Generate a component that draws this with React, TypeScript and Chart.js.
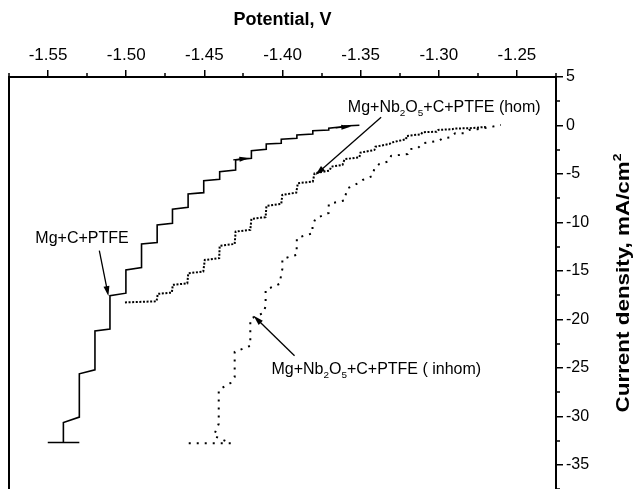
import React, { useEffect, useRef } from 'react';
import { Chart, registerables } from 'chart.js';

Chart.register(...registerables);

const FONT = "'Liberation Sans', Arial, Helvetica, sans-serif";

// Axis ticks
const xTicks = [-1.55, -1.5, -1.45, -1.4, -1.35, -1.3, -1.25];
const xMinorTicks = [-1.575, -1.525, -1.475, -1.425, -1.375, -1.325, -1.275, -1.225];
const yTicks = [5, 0, -5, -10, -15, -20, -25, -30, -35];
const yMinorTicks = [2.5, -2.5, -7.5, -12.5, -17.5, -22.5, -27.5, -32.5, -37.5];
const xRange = [-1.575, -1.225];
const yRange = [-37.5, 5];

// Mg+C+PTFE (solid staircase)
const mgcPotential = [
  -1.5502, -1.5300, -1.5402, -1.5402, -1.5300, -1.5300, -1.5200, -1.5200, -1.5104, -1.5104,
  -1.5002, -1.5002, -1.4902, -1.4902, -1.4802, -1.4802, -1.4704, -1.4704, -1.4604, -1.4604,
  -1.4504, -1.4504, -1.4402, -1.4402, -1.4300, -1.4300, -1.4199, -1.4199, -1.4104, -1.4104,
  -1.4008, -1.4008, -1.3908, -1.3908, -1.3806, -1.3806, -1.3704, -1.3704, -1.3603, -1.3603,
  -1.3508,
];
const mgcCurrent = [
  -32.7, -32.7, -32.7, -30.64, -30.08, -25.62, -25.21, -21.19, -21.01, -17.55,
  -17.3, -14.9, -14.66, -12.22, -12.08, -10.26, -10.08, -8.64, -8.43, -7.06,
  -6.93, -5.69, -5.55, -4.76, -4.59, -3.56, -3.38, -2.6, -2.45, -1.91,
  -1.84, -1.42, -1.32, -0.98, -0.88, -0.54, -0.46, -0.29, -0.12, -0.05,
  0.02,
];

// Mg+Nb2O5+C+PTFE (hom) (dense dots)
const homPotential = [
  -1.5008, -1.4806, -1.4798, -1.4708, -1.4702, -1.4609, -1.4603, -1.4507, -1.4497, -1.4405,
  -1.4402, -1.4306, -1.43, -1.4206, -1.4199, -1.4108, -1.4103, -1.4008, -1.4001, -1.3912,
  -1.3902, -1.3806, -1.3795, -1.3699, -1.3688, -1.3616, -1.3603, -1.3508, -1.3501, -1.3412,
  -1.3405, -1.3316, -1.3305, -1.3209, -1.3206, -1.3114, -1.3104, -1.3014, -1.3003, -1.2914,
  -1.2901, -1.2805, -1.2699,
];
const homCurrent = [
  -18.25, -18.14, -17.37, -17.24, -16.44, -16.29, -15.24, -15.07, -13.87, -13.69,
  -12.42, -12.22, -10.95, -10.77, -9.64, -9.46, -8.3, -8.09, -7.16, -6.93,
  -5.96, -5.79, -4.93, -4.66, -4.25, -4.07, -3.48, -3.28, -2.8, -2.53,
  -2.19, -1.91, -1.77, -1.42, -1.08, -0.91, -0.7, -0.64, -0.46, -0.39,
  -0.31, -0.29, -0.15,
];

// Mg+Nb2O5+C+PTFE ( inhom) (sparse dots)
const inhomPotential = [
  -1.46, -1.4331, -1.444, -1.4408, -1.4408, -1.4331, -1.4306, -1.4306, -1.4206, -1.4206,
  -1.4121, -1.4108, -1.4108, -1.4019, -1.4001, -1.4001, -1.391, -1.3908, -1.3808, -1.3808,
  -1.3789, -1.3704, -1.3704, -1.3603, -1.3593, -1.3582, -1.352, -1.3487, -1.3423, -1.3412,
  -1.338, -1.3322, -1.3305, -1.3199, -1.3188, -1.3135, -1.3103, -1.2997, -1.2976, -1.2922,
  -1.2895, -1.2837, -1.2805, -1.2752, -1.2656, -1.2603,
];
const inhomCurrent = [
  -32.78, -32.78, -32.01, -30.77, -27.27, -26.55, -25.93, -23.35, -22.73, -19.95,
  -19.33, -18.61, -16.96, -16.34, -14.79, -13.76, -13.35, -11.6, -11.13, -10.36,
  -9.59, -9.02, -8.09, -7.73, -6.96, -6.47, -5.98, -5.62, -5.21, -4.41,
  -3.97, -3.71, -3.14, -2.94, -2.45, -2.35, -1.84, -1.57, -1.32, -1.22,
  -0.8, -0.8, -0.46, -0.39, -0.12, 0.05,
];

type Seg = { t: string; s?: 'sub' | 'sup' };

const homLabel: Seg[] = [
  { t: 'Mg+Nb' }, { t: '2', s: 'sub' }, { t: 'O' }, { t: '5', s: 'sub' }, { t: '+C+PTFE (hom)' },
];
const inhomLabel: Seg[] = [
  { t: 'Mg+Nb' }, { t: '2', s: 'sub' }, { t: 'O' }, { t: '5', s: 'sub' }, { t: '+C+PTFE ( inhom)' },
];
const mgcLabel: Seg[] = [{ t: 'Mg+C+PTFE' }];
const xTitle: Seg[] = [{ t: 'Potential, V' }];
const yTitle: Seg[] = [{ t: 'Current density, mA/cm' }, { t: '2', s: 'sup' }];

// annotation anchors in data coordinates
const annotations = [
  { label: mgcLabel, x: -1.5283, y: -11.5, align: 'center', tail: [-1.5172, -12.9], tip: [-1.5114, -17.6] },
  { label: homLabel, x: -1.3582, y: 2.0, align: 'left', tail: [-1.3369, 0.85], tip: [-1.3789, -5.1] },
  { label: inhomLabel, x: -1.4071, y: -25.0, align: 'left', tail: [-1.3923, -23.76], tip: [-1.4185, -19.64] },
];
const directionMarks = [
  { from: [-1.4315, -3.55], to: [-1.4212, -3.36] },
  { from: [-1.3660, -0.24], to: [-1.3560, -0.1] },
];

function richWidth(ctx: CanvasRenderingContext2D, segs: Seg[], size: number, bold: boolean) {
  let w = 0;
  for (const sg of segs) {
    const fs = sg.s ? size * 0.62 : size;
    ctx.font = `${bold ? 'bold ' : ''}${fs}px ${FONT}`;
    w += ctx.measureText(sg.t).width;
  }
  return w;
}

function drawRich(
  ctx: CanvasRenderingContext2D, segs: Seg[], x: number, y: number,
  size: number, bold: boolean, align: 'left' | 'center',
) {
  const total = richWidth(ctx, segs, size, bold);
  let cx = align === 'center' ? x - total / 2 : x;
  ctx.textAlign = 'left';
  ctx.textBaseline = 'alphabetic';
  const base = y + size * 0.36;
  for (const sg of segs) {
    const fs = sg.s ? size * 0.62 : size;
    ctx.font = `${bold ? 'bold ' : ''}${fs}px ${FONT}`;
    let yy = base;
    if (sg.s === 'sub') yy = base + size * 0.28;
    if (sg.s === 'sup') yy = base - size * 0.42;
    ctx.fillText(sg.t, cx, yy);
    cx += ctx.measureText(sg.t).width;
  }
}

function arrow(ctx: CanvasRenderingContext2D, x1: number, y1: number, x2: number, y2: number, len: number, half: number, line: boolean) {
  const a = Math.atan2(y2 - y1, x2 - x1);
  if (line) {
    ctx.beginPath();
    ctx.moveTo(x1, y1);
    ctx.lineTo(x2 - Math.cos(a) * len * 0.6, y2 - Math.sin(a) * len * 0.6);
    ctx.stroke();
  }
  ctx.beginPath();
  ctx.moveTo(x2, y2);
  ctx.lineTo(x2 - Math.cos(a) * len + Math.sin(a) * half, y2 - Math.sin(a) * len - Math.cos(a) * half);
  ctx.lineTo(x2 - Math.cos(a) * len - Math.sin(a) * half, y2 - Math.sin(a) * len + Math.cos(a) * half);
  ctx.closePath();
  ctx.fill();
}

const decorPlugin = {
  id: 'decor',
  afterDraw(chart: any) {
    const { ctx, chartArea } = chart;
    const xs = chart.scales.x;
    const ys = chart.scales.y;
    ctx.save();
    ctx.strokeStyle = '#000';
    ctx.fillStyle = '#000';
    // left frame
    ctx.lineWidth = 2;
    ctx.beginPath();
    ctx.moveTo(chartArea.left, chartArea.top - 1);
    ctx.lineTo(chartArea.left, chartArea.bottom);
    ctx.stroke();
    // minor ticks
    ctx.lineWidth = 1.5;
    ctx.beginPath();
    for (const v of xMinorTicks) {
      const px = Math.round(xs.getPixelForValue(v));
      ctx.moveTo(px, chartArea.top);
      ctx.lineTo(px, chartArea.top - 4);
    }
    for (const v of yMinorTicks) {
      const py = Math.round(ys.getPixelForValue(v));
      ctx.moveTo(chartArea.right, py);
      ctx.lineTo(chartArea.right + 4, py);
    }
    ctx.stroke();

    // axis titles
    drawRich(ctx, xTitle, (chartArea.left + chartArea.right) / 2, 19, 18, true, 'center');
    ctx.save();
    ctx.translate(622, (chartArea.top + chartArea.bottom) / 2);
    ctx.rotate(-Math.PI / 2);
    ctx.scale(1.18, 1);
    drawRich(ctx, yTitle, 0, 0, 19, true, 'center');
    ctx.restore();

    // annotations
    ctx.lineWidth = 1.3;
    for (const an of annotations) {
      drawRich(ctx, an.label, xs.getPixelForValue(an.x), ys.getPixelForValue(an.y), 16, false, an.align as any);
      arrow(ctx,
        xs.getPixelForValue(an.tail[0]), ys.getPixelForValue(an.tail[1]),
        xs.getPixelForValue(an.tip[0]), ys.getPixelForValue(an.tip[1]), 10, 3, true);
    }
    for (const d of directionMarks) {
      arrow(ctx,
        xs.getPixelForValue(d.from[0]), ys.getPixelForValue(d.from[1]),
        xs.getPixelForValue(d.to[0]), ys.getPixelForValue(d.to[1]), 10, 2.5, true);
    }
    ctx.restore();
  },
};

const toPoints = (xsArr: number[], ysArr: number[]) => xsArr.map((x, i) => ({ x, y: ysArr[i] }));

export default function App() {
  const ref = useRef<HTMLCanvasElement | null>(null);
  useEffect(() => {
    if (!ref.current) return;
    const chart = new Chart(ref.current, {
      type: 'scatter',
      data: {
        datasets: [
          {
            label: 'Mg+C+PTFE',
            data: toPoints(mgcPotential, mgcCurrent),
            showLine: true,
            borderColor: '#000',
            borderWidth: 1.6,
            pointRadius: 0,
          },
          {
            label: 'Mg+Nb2O5+C+PTFE (hom)',
            data: toPoints(homPotential, homCurrent),
            showLine: true,
            borderColor: '#000',
            borderWidth: 2,
            borderDash: [2, 1.6],
            pointRadius: 0,
          },
          {
            label: 'Mg+Nb2O5+C+PTFE ( inhom)',
            data: toPoints(inhomPotential, inhomCurrent),
            showLine: true,
            borderColor: '#000',
            borderWidth: 2,
            borderDash: [2, 6],
            pointRadius: 0,
          },
        ],
      } as any,
      options: {
        responsive: false,
        animation: false,
        layout: { padding: { left: 9, right: 0, top: 0, bottom: 0 } },
        plugins: { legend: { display: false }, tooltip: { enabled: false } },
        elements: { line: { tension: 0 } },
        scales: {
          x: {
            type: 'linear',
            position: 'top',
            min: xRange[0],
            max: xRange[1],
            afterBuildTicks: (s: any) => { s.ticks = xTicks.map((v) => ({ value: v })); },
            afterFit: (s: any) => {
              s.height = 77;
              s.paddingLeft = 0; s.paddingRight = 0; s.paddingTop = 0; s.paddingBottom = 0;
            },
            grid: { drawOnChartArea: false, drawTicks: true, tickLength: 7, color: '#000', lineWidth: 1.5 },
            border: { display: true, color: '#000', width: 2 },
            ticks: {
              color: '#000', padding: 4, maxRotation: 0, autoSkip: false,
              font: { family: FONT, size: 17 },
              callback: (v: any) => Number(v).toFixed(2),
            },
          },
          y: {
            type: 'linear',
            position: 'right',
            min: yRange[0],
            max: yRange[1],
            afterBuildTicks: (s: any) => { s.ticks = yTicks.map((v) => ({ value: v })); },
            afterFit: (s: any) => {
              s.width = 84;
              s.paddingLeft = 0; s.paddingRight = 0; s.paddingTop = 0; s.paddingBottom = 0;
            },
            grid: { drawOnChartArea: false, drawTicks: true, tickLength: 7, color: '#000', lineWidth: 1.5 },
            border: { display: true, color: '#000', width: 2 },
            ticks: {
              color: '#000', padding: 3, autoSkip: false,
              font: { family: FONT, size: 16 },
              callback: (v: any) => String(v),
            },
          },
        },
      } as any,
      plugins: [decorPlugin],
    });
    return () => chart.destroy();
  }, []);
  return (
    <div style={{ position: 'absolute', left: 0, top: 0, width: 640, height: 489, background: '#fff' }}>
      <canvas ref={ref} width={640} height={489} style={{ display: 'block' }} />
    </div>
  );
}
